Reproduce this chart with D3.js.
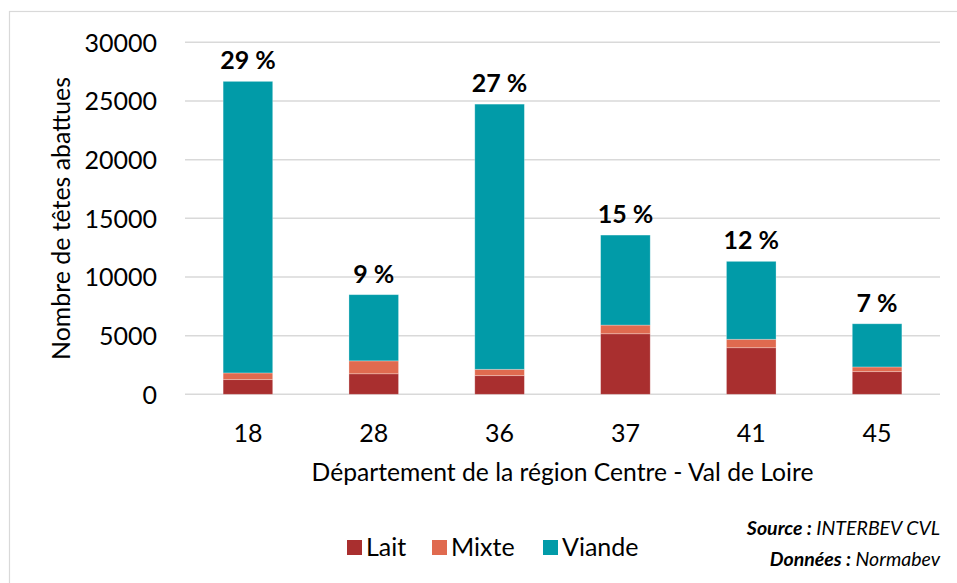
<!DOCTYPE html>
<html><head><meta charset="utf-8">
<script src="https://cdn.jsdelivr.net/npm/d3@7"></script>
<style>body{margin:0;background:#fff}svg{display:block;font-family:Lato,"Open Sans",sans-serif}</style>
</head><body><svg id="c" width="957" height="583"></svg>
<script>
const categories = ["18","28","36","37","41","45"];
const lait   = [1250, 1750, 1590, 5160, 3970, 1930];
const mixte  = [570, 1100, 540, 740, 720, 400];
const viande = [24850, 5640, 22600, 7670, 6640, 3680];
const shares = ["29 %","9 %","27 %","15 %","12 %","7 %"];
const yTicks = [0,5000,10000,15000,20000,25000,30000];
const seriesNames = ["Lait","Mixte","Viande"];
const colors = ["#a92f2f","#e06a4f","#019ba8"];

const svg = d3.select("#c");
svg.append("rect").attr("x",9.5).attr("y",11.5).attr("width",960).attr("height",600)
  .attr("fill","none").attr("stroke","#d9d9d9").attr("stroke-width",1.2);

const x = d3.scaleBand().domain(categories).range([185,940]).paddingInner(0.606).paddingOuter(0.303);
const y = d3.scaleLinear().domain([0,30000]).range([394.3,42.3]);

// gridlines
svg.append("g").selectAll("line").data(yTicks).join("line")
  .attr("x1",185).attr("x2",940).attr("y1",d=>y(d)).attr("y2",d=>y(d))
  .attr("stroke","#d9d9d9").attr("stroke-width",1.5);

// y axis labels
const yAxis = svg.append("g").attr("transform","translate(185,0)")
  .call(d3.axisLeft(y).tickValues(yTicks).tickFormat(d3.format("d")).tickSize(0).tickPadding(28));
yAxis.select(".domain").remove();
yAxis.selectAll("text").attr("font-size",25).attr("font-family","Lato").attr("fill","#000").attr("dy","0.35em");

// stacked bars
const rows = categories.map((c,i)=>({cat:c, Lait:lait[i], Mixte:mixte[i], Viande:viande[i]}));
const stacked = d3.stack().keys(seriesNames)(rows);
svg.append("g").selectAll("g").data(stacked).join("g")
  .attr("fill",(d,i)=>colors[i])
  .selectAll("rect").data(d=>d).join("rect")
  .attr("x",d=>x(d.data.cat)).attr("width",x.bandwidth())
  .attr("y",d=>y(d[1])).attr("height",d=>y(d[0])-y(d[1]))
  .attr("stroke","#ffffff").attr("stroke-opacity",0.35).attr("stroke-width",0.8);

// percent labels
const topLayer = stacked[stacked.length-1];
svg.append("g").selectAll("text").data(topLayer).join("text")
  .attr("x",d=>x(d.data.cat)+x.bandwidth()/2).attr("y",d=>y(d[1])-12)
  .attr("text-anchor","middle").attr("font-weight","bold").attr("font-size",25)
  .text((d,i)=>shares[i]);

// x axis labels
const xAxis = svg.append("g").attr("transform","translate(0,394.3)")
  .call(d3.axisBottom(x).tickSize(0).tickPadding(47.5));
xAxis.select(".domain").remove();
xAxis.selectAll("text").attr("font-size",25).attr("font-family","Lato").attr("fill","#000").attr("dy","0");

function fit(sel, w){ const n = sel.node(); const fs = +sel.attr("font-size"); const l = n.getComputedTextLength(); sel.attr("font-size", fs*w/l); }

// axis titles
const xt = svg.append("text").attr("x",562.5).attr("y",481).attr("text-anchor","middle")
  .attr("font-size",22).text("Département de la région Centre - Val de Loire");
fit(xt,502);
const yt = svg.append("text").attr("transform","translate(70,218.5) rotate(-90)").attr("text-anchor","middle")
  .attr("font-size",22).text("Nombre de têtes abattues");
fit(yt,283);

// legend
const legX = [347,432,543];
const lg = svg.append("g").selectAll("g").data(seriesNames).join("g")
  .attr("transform",(d,i)=>`translate(${legX[i]},540)`);
lg.append("rect").attr("width",15).attr("height",15).attr("fill",(d,i)=>colors[i]);
lg.append("text").attr("x",19).attr("y",15.5).attr("font-size",25).text(d=>d);

// source
const s1 = svg.append("text").attr("x",940).attr("y",535).attr("text-anchor","end").attr("font-style","italic").attr("font-size",19.5);
s1.append("tspan").attr("font-weight","bold").text("Source :");
s1.append("tspan").text(" INTERBEV CVL");
const s2 = svg.append("text").attr("x",940).attr("y",566).attr("text-anchor","end").attr("font-style","italic").attr("font-size",19.5);
s2.append("tspan").attr("font-weight","bold").text("Données :");
s2.append("tspan").text(" Normabev");
</script></body></html>
